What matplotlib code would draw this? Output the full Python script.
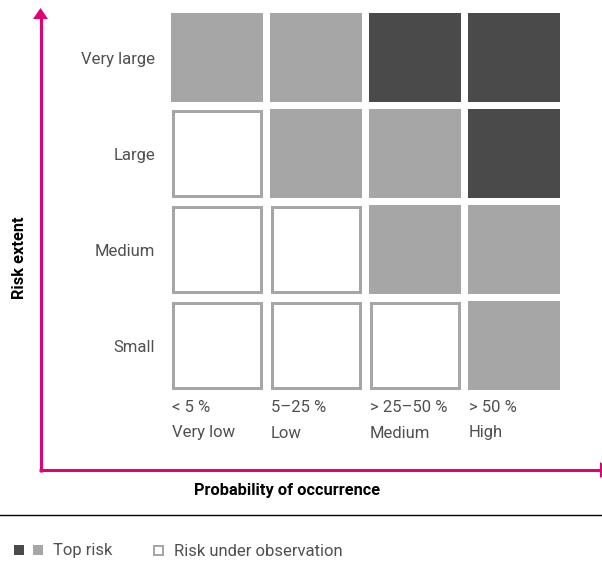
import matplotlib
matplotlib.use("Agg")
import matplotlib.pyplot as plt
from matplotlib.patches import Rectangle, Polygon

# ---- data ----
row_labels = ["Very large", "Large", "Medium", "Small"]
col_pct = ["< 5 %", "5–25 %", "> 25–50 %", "> 50 %"]
col_names = ["Very low", "Low", "Medium", "High"]
# 2 = top risk (dark), 1 = top risk (light), 0 = risk under observation
levels = [
    [1, 1, 2, 2],
    [0, 1, 1, 2],
    [0, 0, 1, 1],
    [0, 0, 0, 1],
]
x_title = "Probability of occurrence"
y_title = "Risk extent"
legend_top = "Top risk"
legend_obs = "Risk under observation"

# ---- style ----
DARK = "#4a4a4a"
LIGHT = "#a6a6a6"
MAGENTA = "#e20074"
TXT = "#505050"
FONT = "Roboto"
FS = 12
FW = "normal"

W, H = 602, 563
fig = plt.figure(figsize=(W / 100, H / 100), dpi=100)
ax = fig.add_axes([0, 0, 1, 1])
ax.set_xlim(0, W)
ax.set_ylim(H, 0)
ax.axis("off")

x0, dx, cw = 170.5, 99, 92
y0, dy, ch = 13, 96, 88.5
px = 0.72  # points per pixel

for r, row in enumerate(levels):
    for c, lv in enumerate(row):
        left = x0 + c * dx
        top = y0 + r * dy
        if lv == 0:
            ax.add_patch(Rectangle((left + 2, top + 2), cw - 4, ch - 4,
                                   facecolor="white", edgecolor=LIGHT,
                                   linewidth=3 * px))
        else:
            ax.add_patch(Rectangle((left, top), cw, ch,
                                   facecolor=DARK if lv == 2 else LIGHT,
                                   edgecolor="none"))

for r, lab in enumerate(row_labels):
    ax.text(155, y0 + r * dy + ch / 2 + 2, lab, ha="right", va="center",
            fontsize=FS, color=TXT, family=FONT, fontweight=FW)

for c, (p, n) in enumerate(zip(col_pct, col_names)):
    left = x0 + 1.5 + c * dx
    ax.text(left, 408, p, ha="left", va="center", fontsize=FS, color=TXT,
            family=FONT, fontweight=FW)
    ax.text(left, 433, n, ha="left", va="center", fontsize=FS, color=TXT,
            family=FONT, fontweight=FW)

# axes arrows
ax.plot([40.5, 40.5], [471.5, 17], color=MAGENTA, lw=3 * px,
        solid_capstyle="butt")
ax.add_patch(Polygon([[33, 19], [48, 19], [40.5, 8]], closed=True,
                     facecolor=MAGENTA, edgecolor="none"))
ax.plot([39, 601], [470, 470], color=MAGENTA, lw=3 * px,
        solid_capstyle="butt")
ax.add_patch(Polygon([[600, 462], [600, 478], [611, 470]], closed=True,
                     facecolor=MAGENTA, edgecolor="none"))

ax.text(20, 258, y_title, rotation=90, ha="center", va="center",
        fontsize=11.8, fontweight="bold", color="black", family=FONT)
ax.text(287, 490, x_title, ha="center", va="center",
        fontsize=11.8, fontweight="bold", color="black", family=FONT)

# separator
ax.plot([0, W], [515, 515], color="black", lw=1.0)

# legend
ax.add_patch(Rectangle((14, 545), 10, 10, facecolor=DARK, edgecolor="none"))
ax.add_patch(Rectangle((33, 545), 10, 10, facecolor=LIGHT, edgecolor="none"))
ax.text(53, 551, legend_top, ha="left", va="center", fontsize=FS,
        color=TXT, family=FONT, fontweight=FW)
ax.add_patch(Rectangle((154, 546), 9, 9, facecolor="white", edgecolor=LIGHT,
                       linewidth=2 * px))
ax.text(174, 551, legend_obs, ha="left", va="center", fontsize=FS,
        color=TXT, family=FONT, fontweight=FW)

fig.savefig("out.png", dpi=100)
